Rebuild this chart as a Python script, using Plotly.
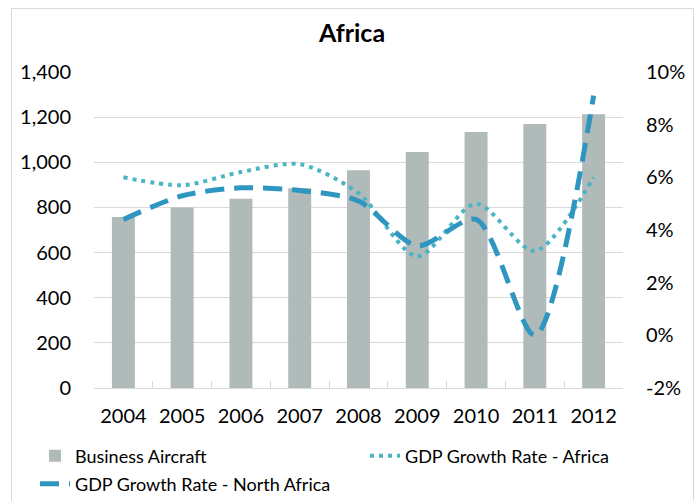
import plotly.graph_objects as go

# Fleet size and GDP growth, 2004-2012
years = ["2004", "2005", "2006", "2007", "2008", "2009", "2010", "2011", "2012"]
business_aircraft = [758, 800, 838, 885, 965, 1046, 1134, 1170, 1213]
gdp_africa = [0.060, 0.057, 0.062, 0.065, 0.054, 0.030, 0.050, 0.032, 0.060]
gdp_north_africa = [0.044, 0.053, 0.056, 0.055, 0.051, 0.034, 0.044, 0.000, 0.091]

left_ticks = [0, 200, 400, 600, 800, 1000, 1200, 1400]
right_ticks = [-0.02, 0.0, 0.02, 0.04, 0.06, 0.08, 0.10]
right_tick_labels = ["-2%", "0%", "2%", "4%", "6%", "8%", "10%"]

FONT = "Lato, Roboto, sans-serif"
GRID = "#d9d9d9"

# page and plot-area geometry in pixels
W, H = 697, 501
L, R, T, B = 94, 74, 72, 113
PW, PH = W - L - R, H - T - B


def px_x(x):
    """pixel x -> paper x"""
    return (x - L) / PW


def px_y(y):
    """pixel y -> paper y"""
    return (H - B - y) / PH


fig = go.Figure()

fig.add_trace(go.Bar(
    x=years, y=business_aircraft, name="Business Aircraft",
    marker=dict(color="#AFBAB9", line=dict(width=0)),
    legend="legend", showlegend=True,
))
fig.add_trace(go.Scatter(
    x=years, y=gdp_africa, name="GDP Growth Rate - Africa", yaxis="y2",
    mode="lines", line=dict(color="#4BB5C3", width=4, dash="4px,5px", shape="spline", smoothing=0.8),
    legend="legend2", showlegend=True,
))
fig.add_trace(go.Scatter(
    x=years, y=gdp_north_africa, name="GDP Growth Rate - North Africa", yaxis="y2",
    mode="lines", line=dict(color="#2E96C0", width=5, dash="19px,10px", shape="spline", smoothing=0.8),
    legend="legend3", showlegend=True,
))

legend_common = dict(
    orientation="v", xanchor="left", yanchor="middle",
    xref="container", yref="container",
    font=dict(family=FONT, size=18, color="#000"),
    bgcolor="rgba(0,0,0,0)", borderwidth=0,
)

fig.update_layout(
    width=W, height=H,
    margin=dict(l=L, r=R, t=T, b=B, autoexpand=False),
    paper_bgcolor="white", plot_bgcolor="white",
    showlegend=True,
    bargap=0.61,
    title=dict(text="<b>Africa</b>", x=352 / W, xanchor="center",
               y=1 - 33 / H, yanchor="middle",
               font=dict(family=FONT, size=25, color="#000")),
    xaxis=dict(
        type="category", showgrid=False,
        showline=True, linecolor=GRID, linewidth=1,
        ticks="inside", tickson="boundaries", ticklen=7, tickcolor=GRID,
        tickfont=dict(family=FONT, size=20, color="#000"),
        ticklabelstandoff=10,
    ),
    yaxis=dict(
        range=[0, 1400], tickvals=left_ticks, tickformat=",",
        showgrid=True, gridcolor=GRID, gridwidth=1, zeroline=False,
        showline=False, ticks="",
        tickfont=dict(family=FONT, size=20, color="#000"),
        ticklabelstandoff=22,
    ),
    yaxis2=dict(
        overlaying="y", side="right", range=[-0.02, 0.10],
        tickvals=right_ticks, ticktext=right_tick_labels,
        showgrid=False, zeroline=False, showline=False, ticks="",
        tickfont=dict(family=FONT, size=20, color="#000"),
        ticklabelstandoff=22,
    ),
    legend=dict(x=35 / W, y=1 - 456 / H, **legend_common),
    legend2=dict(x=365 / W, y=1 - 456 / H, **legend_common),
    legend3=dict(x=35 / W, y=1 - 484 / H, **legend_common),
    shapes=[dict(
        type="rect", xref="paper", yref="paper",
        x0=px_x(11.5), x1=px_x(693.5), y0=px_y(520), y1=px_y(8.5),
        line=dict(color=GRID, width=1), fillcolor="rgba(0,0,0,0)", layer="below",
    )],
)

fig.write_html("out.html")
